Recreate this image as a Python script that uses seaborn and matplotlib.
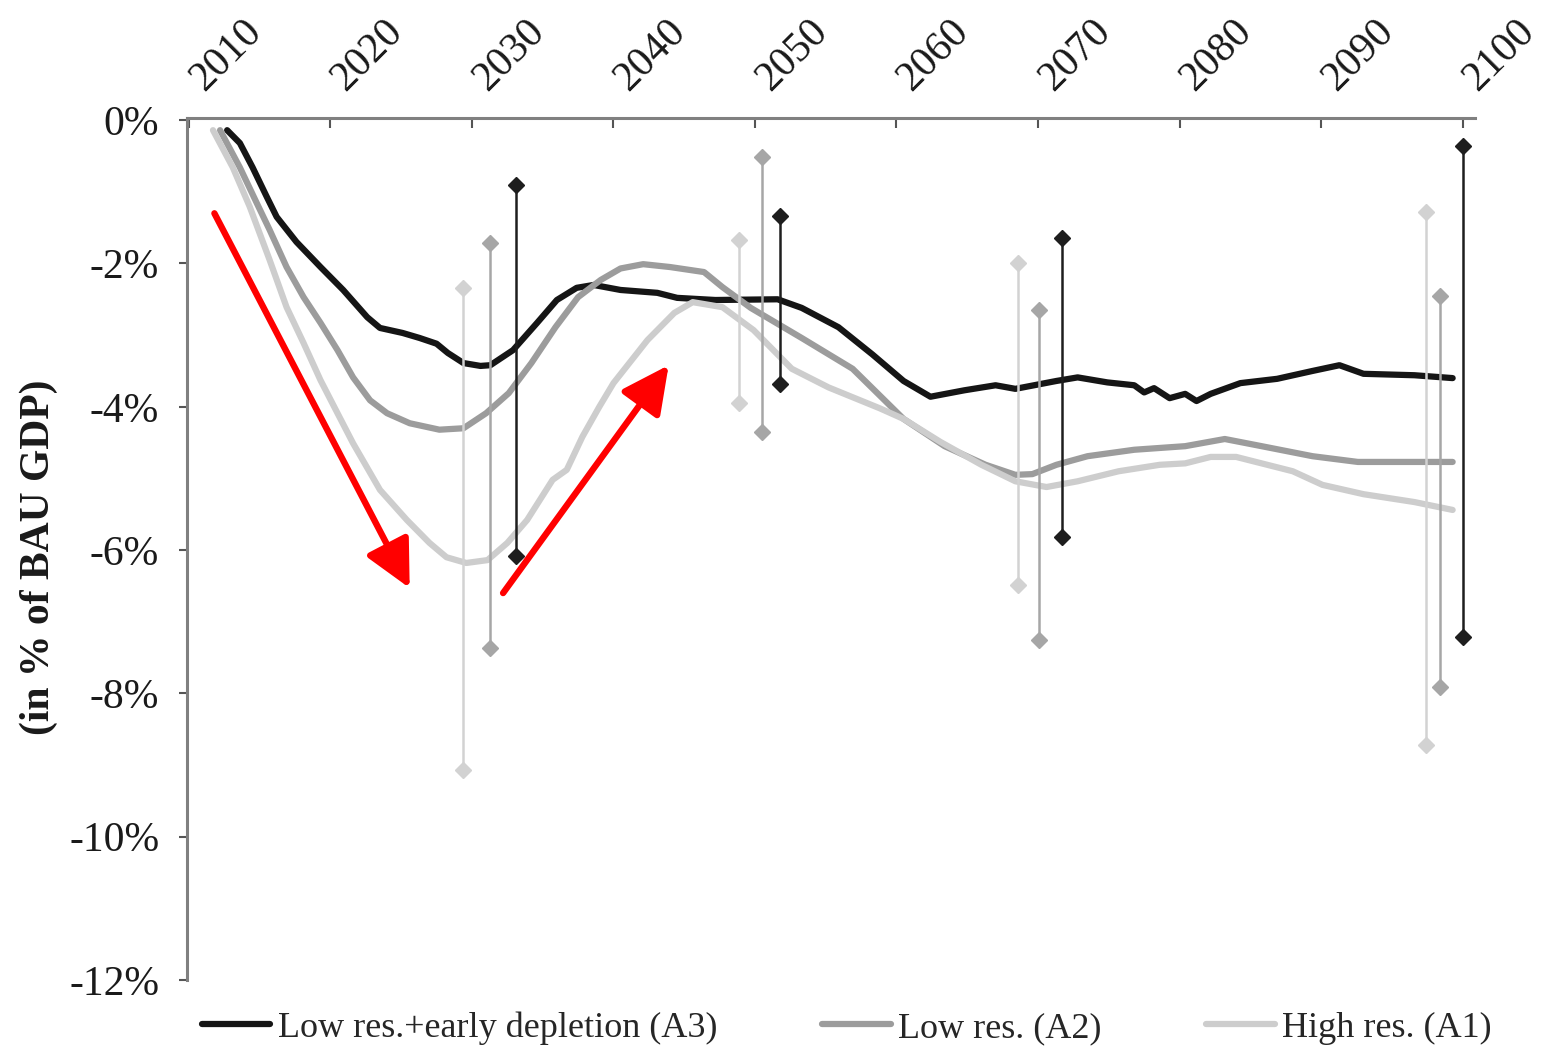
import matplotlib
matplotlib.use("Agg")
import matplotlib.pyplot as plt
import matplotlib.transforms as mtransforms
import seaborn as sns
import pandas as pd

# GDP loss vs BAU (year, % of BAU GDP)
a3_years = [2012.7, 2013.6, 2014.5, 2015.5, 2016.2, 2017.6, 2019.3, 2020.9, 2022.6, 2023.5,
            2025.1, 2026.3, 2027.5, 2028.3, 2029.4, 2030.6, 2031.3, 2032.9, 2034.6, 2036.0,
            2037.4, 2038.6, 2040.5, 2043.1, 2044.5, 2047.2, 2051.6, 2053.3, 2055.9, 2058.3,
            2060.5, 2062.4, 2064.8, 2067.0, 2068.4, 2071.3, 2072.8, 2074.9, 2076.8, 2077.5,
            2078.2, 2079.3, 2080.4, 2081.2, 2082.2, 2084.3, 2086.9, 2089.4, 2091.3, 2093.0,
            2096.6, 2099.3]
a3_vals = [-0.14, -0.32, -0.66, -1.07, -1.35, -1.70, -2.05, -2.37, -2.75, -2.90,
           -2.97, -3.04, -3.12, -3.25, -3.39, -3.43, -3.42, -3.21, -2.83, -2.51,
           -2.34, -2.30, -2.37, -2.41, -2.48, -2.51, -2.50, -2.62, -2.89, -3.27,
           -3.64, -3.86, -3.77, -3.70, -3.75, -3.64, -3.59, -3.66, -3.70, -3.80,
           -3.74, -3.88, -3.82, -3.92, -3.82, -3.67, -3.61, -3.50, -3.42, -3.54,
           -3.56, -3.60]

a2_years = [2012.2, 2013.6, 2014.8, 2015.7, 2016.9, 2018.1, 2019.3, 2020.5, 2021.6, 2022.8,
            2024.0, 2025.6, 2027.7, 2029.4, 2031.0, 2032.6, 2034.2, 2035.9, 2037.5, 2039.1,
            2040.5, 2042.1, 2044.0, 2046.4, 2047.7, 2049.7, 2053.3, 2056.9, 2060.5, 2063.4,
            2066.3, 2068.4, 2069.6, 2071.3, 2073.5, 2076.8, 2080.4, 2083.2, 2085.8, 2089.4,
            2092.6, 2099.3]
a2_vals = [-0.14, -0.66, -1.16, -1.53, -2.05, -2.47, -2.83, -3.21, -3.59, -3.91,
           -4.09, -4.23, -4.32, -4.30, -4.09, -3.81, -3.39, -2.89, -2.47, -2.23,
           -2.07, -2.01, -2.05, -2.12, -2.33, -2.62, -3.04, -3.47, -4.17, -4.55,
           -4.81, -4.95, -4.94, -4.81, -4.69, -4.60, -4.55, -4.45, -4.55, -4.69,
           -4.77, -4.77]

a1_years = [2011.7, 2013.1, 2014.3, 2015.7, 2016.9, 2018.1, 2019.3, 2020.5, 2021.6, 2023.5,
            2025.4, 2027.0, 2028.2, 2029.6, 2031.1, 2032.5, 2033.9, 2035.7, 2036.7, 2037.8,
            2039.0, 2040.0, 2042.4, 2044.3, 2045.6, 2047.7, 2049.9, 2052.6, 2055.2, 2058.8,
            2060.5, 2063.1, 2066.0, 2068.4, 2070.6, 2072.8, 2075.7, 2078.6, 2080.4, 2082.2,
            2084.0, 2085.8, 2088.0, 2090.1, 2093.0, 2096.6, 2099.3]
a1_vals = [-0.14, -0.66, -1.21, -1.95, -2.61, -3.11, -3.63, -4.09, -4.51, -5.16,
           -5.58, -5.90, -6.10, -6.18, -6.14, -5.90, -5.58, -5.02, -4.88, -4.42,
           -4.00, -3.67, -3.07, -2.69, -2.54, -2.61, -2.93, -3.47, -3.73, -4.02,
           -4.17, -4.49, -4.81, -5.04, -5.12, -5.04, -4.90, -4.81, -4.79, -4.70,
           -4.70, -4.79, -4.90, -5.09, -5.22, -5.33, -5.44]

# uncertainty ranges (min / max) shown as vertical bars
a3_bar_x = [2033.1, 2051.8, 2071.7, 2100.0]
a3_bar_hi = [-0.91, -1.34, -1.65, -0.36]
a3_bar_lo = [-6.08, -3.68, -5.82, -7.21]
a2_bar_x = [2031.3, 2050.5, 2070.1, 2098.4]
a2_bar_hi = [-1.72, -0.52, -2.65, -2.46]
a2_bar_lo = [-7.37, -4.35, -7.26, -7.91]
a1_bar_x = [2029.4, 2048.9, 2068.6, 2097.4]
a1_bar_hi = [-2.34, -1.67, -2.00, -1.28]
a1_bar_lo = [-9.07, -3.95, -6.49, -8.72]

# red arrows (start year, start %, end year, end %)
arrow_down = [2011.8, -1.30, 2025.6, -6.53]
arrow_up = [2032.2, -6.60, 2043.9, -3.42]

series_names = ["Low res.+early depletion (A3)", "Low res. (A2)", "High res. (A1)"]
series_colors = ["#151515", "#9c9c9c", "#cdcdcd"]
bar_colors = ["#1e1e1e", "#a6a6a6", "#d2d2d2"]
year_ticks = list(range(2010, 2101, 10))
pct_ticks = [0, -2, -4, -6, -8, -10, -12]

sns.set_theme(style="white")
plt.rcParams["font.family"] = ["Liberation Serif", "DejaVu Serif"]

fig = plt.figure(figsize=(15.45, 10.48), dpi=100)
ax = fig.add_axes([0.1210, 0.0649, 0.8337, 0.8225])

curves = [(a3_years, a3_vals), (a2_years, a2_vals), (a1_years, a1_vals)]
widths = [3.2, 2.6, 2.6]
for (xs, ys), name, col, lw in zip(curves, series_names, series_colors, widths):
    df = pd.DataFrame({"year": xs, "gdp": ys})
    sns.lineplot(data=df, x="year", y="gdp", color=col, lw=lw, label=name,
                 estimator=None, sort=False, ax=ax)

bars = [(a1_bar_x, a1_bar_lo, a1_bar_hi), (a2_bar_x, a2_bar_lo, a2_bar_hi),
        (a3_bar_x, a3_bar_lo, a3_bar_hi)]
for (bx, lo, hi), col in zip(bars, bar_colors[::-1]):
    ax.vlines(bx, lo, hi, color=col, lw=1.8, zorder=3)
    ax.plot(bx + bx, lo + hi, ls="none", marker="D", ms=8.5, color=col, zorder=4)

for a in (arrow_down, arrow_up):
    ax.annotate("", xy=(a[2], a[3]), xytext=(a[0], a[1]),
                arrowprops=dict(arrowstyle="-|>,head_length=0.6,head_width=0.3",
                                color="red", lw=4.6, mutation_scale=48,
                                shrinkA=0, shrinkB=0), zorder=5)

ax.set_xlim(2009.86, 2100.88)
ax.set_ylim(-12, 0.03)

ax.xaxis.tick_top()
ax.set_xticks(year_ticks)
ax.set_xticklabels([str(y) for y in year_ticks], rotation=45, ha="left",
                   va="baseline", rotation_mode="anchor")
ax.set_yticks(pct_ticks)
ax.set_yticklabels([f"{p}%" for p in pct_ticks])
ax.tick_params(axis="x", direction="in", length=7, width=1.5, color="#555555",
               pad=19, labelsize=30, labelcolor="#1a1a1a", top=True, bottom=False)
ax.tick_params(axis="y", direction="out", length=6, width=1.5, color="#555555",
               pad=14, labelsize=30, labelcolor="#1a1a1a", left=True)
# year labels sit a little to the right of their ticks
offset = mtransforms.ScaledTranslation(15 / 100, 0, fig.dpi_scale_trans)
for tick in ax.xaxis.get_major_ticks():
    tick.label2.set_transform(tick.label2.get_transform() + offset)

for side in ("bottom", "right"):
    ax.spines[side].set_visible(False)
for side in ("top", "left"):
    ax.spines[side].set_color("#808080")
    ax.spines[side].set_linewidth(2.2)

ax.set_xlabel("")
ax.set_ylabel("(in % of BAU GDP)", fontsize=30, fontweight="bold", color="#1a1a1a")
ax.yaxis.set_label_coords(-0.100, 0.49)

handles, labels = ax.get_legend_handles_labels()
ax.get_legend().remove()
for h in handles:
    h.set_linewidth(4.5)
fig.legend(handles, labels, loc="center", bbox_to_anchor=(0.548, 0.019), ncol=3,
           frameon=False, fontsize=26, handlelength=1.9, handletextpad=0.2,
           columnspacing=2.9, borderaxespad=0)

fig.savefig("out.png", dpi=100)
